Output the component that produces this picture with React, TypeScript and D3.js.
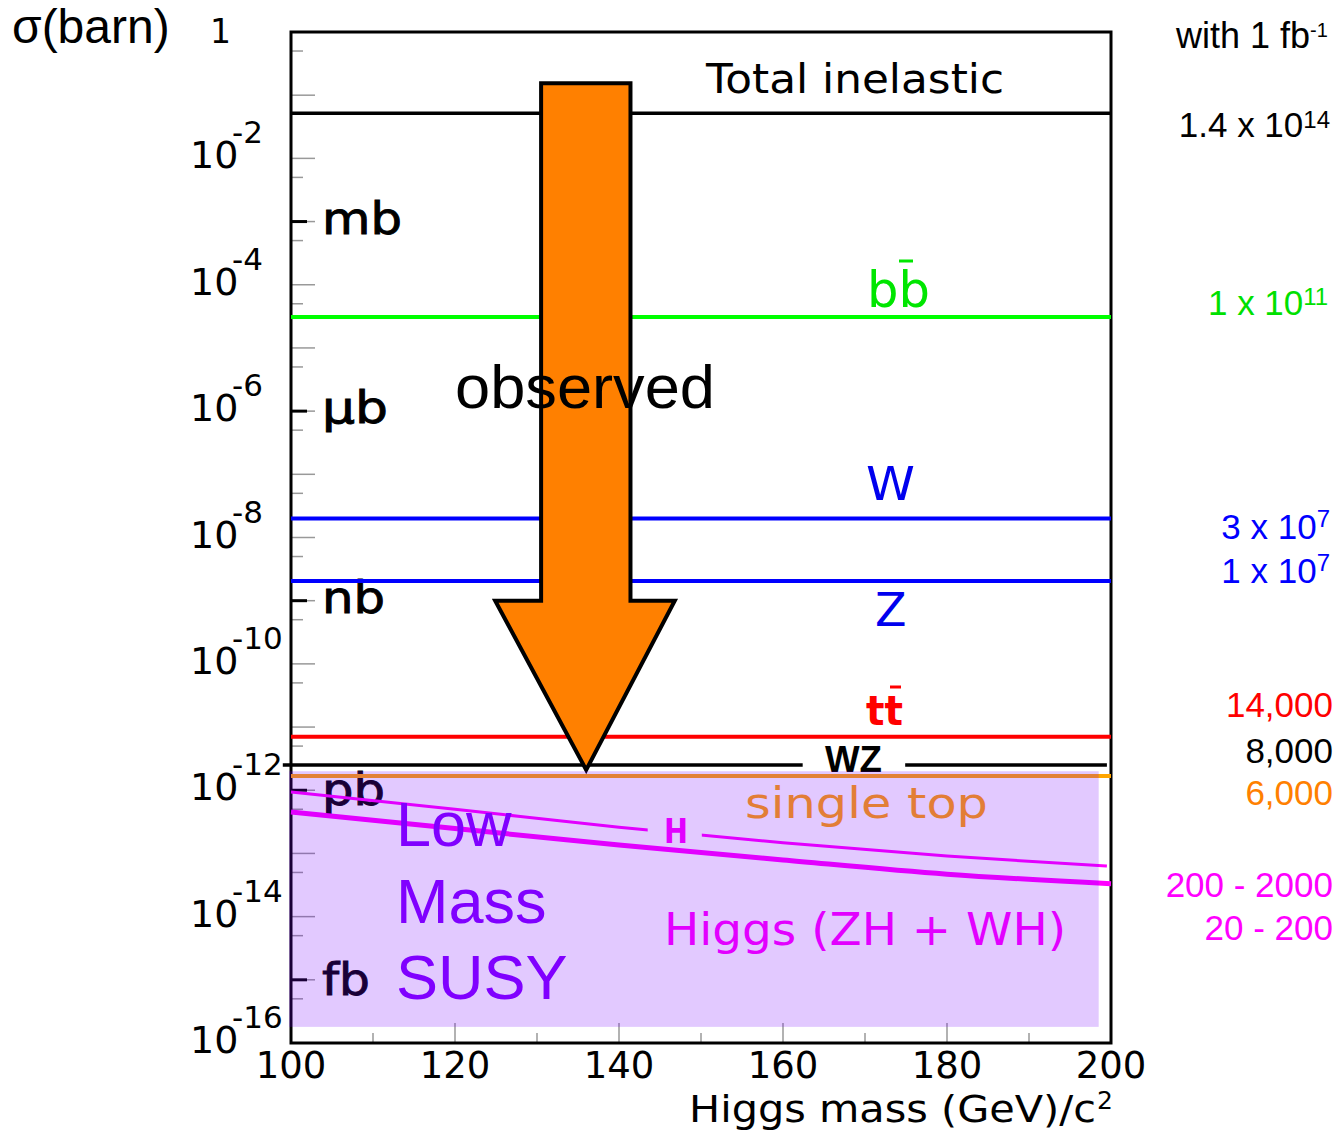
import React from 'react';
import * as d3 from 'd3';

// ---------- data ----------
const massTicks = [100, 120, 140, 160, 180, 200];
const massMinorTicks = [110, 130, 150, 170, 190];
const decadeExponents = [2, 4, 6, 8, 10, 12, 14, 16];
const unitLabels = ['mb', 'μb', 'nb', 'pb', 'fb'];
const unitValues = [1e-3, 1e-6, 1e-9, 1e-12, 1e-15];

const processNames = ['Total inelastic', 'bb', 'W', 'Z', 'tt', 'WZ', 'single top'];
const processSigma = [0.052, 3.1e-5, 2.0e-8, 2.05e-9, 7.0e-12, 2.5e-12, 1.68e-12];
const processColors = ['#000000', '#00ff00', '#0000ff', '#0000ff', '#ff0000', '#000000', '#ffa500'];

const wzExtent = [99, 199.5];
const wzGap = [162.4, 174.9];

const higgsMass = [100, 120, 140, 160, 180, 200];
const higgsZHWH = [4.53e-13, 2.48e-13, 1.36e-13, 7.9e-14, 4.7e-14, 3.3e-14];
const higgsHMass = [100, 120, 140, 160, 180, 199.5];
const higgsH = [9.4e-13, 5.0e-13, 2.6e-13, 1.48e-13, 9.1e-14, 6.3e-14];
const hLabelGap = [143.5, 150.1];

const arrowShaftMass = [130.5, 141.4];
const arrowHeadMass = [124.9, 146.8];
const arrowTipMass = 136.0;
const arrowSigma = [0.155, 1.0e-9, 2.1e-12];

const susyMass = [100, 198.5];
const susySigma = [2.0e-12, 1.8e-16];
const susyWords = ['Low', 'Mass', 'SUSY'];

const eventMain = ['1.4 x 10', '1 x 10', '3 x 10', '1 x 10', '14,000', '8,000', '6,000', '200 - 2000', '20 - 200'];
const eventSup = ['14', '11', '7', '7', '', '', '', '', ''];
const eventColors = ['#000000', '#00e000', '#0000ff', '#0000ff', '#ff0000', '#000000', '#ff8000', '#ff00ff', '#ff00ff'];

// ---------- layout ----------
const W = 1340;
const H = 1132;
const ROOT_FONT = "'DejaVu Sans', sans-serif";
const ARIAL = "'Liberation Sans', Arial, sans-serif";

export default function App() {
  const x = d3.scaleLinear().domain([100, 200]).range([291, 1111]);
  const y = d3.scaleLog().domain([1, 1e-16]).range([32, 1043]);

  const left = x(100);
  const right = x(200);
  const top = y(1);
  const bottom = y(1e-16);

  const hline = d3.line<[number, number]>().x((d) => x(d[0])).y((d) => y(d[1]));
  const curve = d3
    .line<[number, number]>()
    .x((d) => x(d[0]))
    .y((d) => y(d[1]))
    .curve(d3.curveMonotoneX);

  // y ticks
  const decadeTicks: number[] = [];
  const halfTicks: number[] = [];
  for (let k = 1; k < 16; k++) decadeTicks.push(Math.pow(10, -k));
  for (let k = 0; k < 16; k++) halfTicks.push(5 * Math.pow(10, -(k + 1)));

  const unitWidths = [80, 66, 63, 63, 48];
  const unitShift = [12, 12, 12, 15, 15];

  const eventBaselines = [137, 315, 539, 583, 717, 763, 805, 897, 940];
  const eventSupShift = [9, 10, 12, 12, 0, 0, 0, 0, 0];
  const eventRight = 1333;
  const supFont = 24;

  const arrowPts: [number, number][] = [
    [arrowShaftMass[0], arrowSigma[0]],
    [arrowShaftMass[1], arrowSigma[0]],
    [arrowShaftMass[1], arrowSigma[1]],
    [arrowHeadMass[1], arrowSigma[1]],
    [arrowTipMass, arrowSigma[2]],
    [arrowHeadMass[0], arrowSigma[1]],
    [arrowShaftMass[0], arrowSigma[1]],
  ];
  const arrowPath = arrowPts.map((p) => `${x(p[0])},${y(p[1])}`).join(' ');

  return (
    <svg
      width={W}
      height={H}
      viewBox={`0 0 ${W} ${H}`}
      style={{ position: 'absolute', left: 0, top: 0, background: '#fff' }}
    >
      <rect x={0} y={0} width={W} height={H} fill="#fff" />
      <defs>
        <clipPath id="hgap">
          <rect x={0} y={0} width={x(hLabelGap[0])} height={H} />
          <rect x={x(hLabelGap[1])} y={0} width={W - x(hLabelGap[1])} height={H} />
        </clipPath>
      </defs>

      {/* y minor ticks */}
      {decadeTicks.map((v, i) => (
        <line key={'d' + i} x1={left} x2={left + 24} y1={y(v)} y2={y(v)} stroke="#999" strokeWidth={1.5} />
      ))}
      {halfTicks.map((v, i) => (
        <line key={'h' + i} x1={left} x2={left + 12} y1={y(v)} y2={y(v)} stroke="#999" strokeWidth={1.5} />
      ))}
      {/* x ticks */}
      {massMinorTicks.map((v) => (
        <line key={'xm' + v} x1={x(v)} x2={x(v)} y1={bottom} y2={bottom - 10} stroke="#999" strokeWidth={1.5} />
      ))}
      {massTicks.slice(1, -1).map((v) => (
        <line key={'xM' + v} x1={x(v)} x2={x(v)} y1={bottom} y2={bottom - 20} stroke="#999" strokeWidth={1.5} />
      ))}

      {/* frame */}
      <rect x={left} y={top} width={right - left} height={bottom - top} fill="none" stroke="#000" strokeWidth={3} />

      {/* unit ticks and labels */}
      {unitValues.map((v, i) => (
        <g key={'u' + i}>
          <line x1={left} x2={left + 16} y1={y(v)} y2={y(v)} stroke="#000" strokeWidth={3} />
          <text
            x={322}
            y={y(v) + unitShift[i]}
            fontFamily={ROOT_FONT}
            fontSize={44}
            textLength={unitWidths[i]}
            lengthAdjust="spacingAndGlyphs"
            fill="#000"
            stroke="#000"
            strokeWidth={0.9}
          >
            {unitLabels[i]}
          </text>
        </g>
      ))}

      {/* process lines */}
      {processNames.map((name, i) => {
        if (name === 'WZ') {
          const segs: [number, number][][] = [
            [[wzExtent[0], processSigma[i]], [wzGap[0], processSigma[i]]],
            [[wzGap[1], processSigma[i]], [wzExtent[1], processSigma[i]]],
          ];
          return segs.map((s, j) => (
            <path key={name + j} d={hline(s) || ''} stroke={processColors[i]} strokeWidth={3.5} fill="none" />
          ));
        }
        const pts: [number, number][] = [
          [100, processSigma[i]],
          [200, processSigma[i]],
        ];
        return (
          <path
            key={name}
            d={hline(pts) || ''}
            stroke={processColors[i]}
            strokeWidth={i === 0 ? 3.5 : 4}
            fill="none"
          />
        );
      })}

      {/* Higgs curves */}
      <path
        d={curve(higgsHMass.map((m, i) => [m, higgsH[i]] as [number, number])) || ''}
        stroke="#ff00ff"
        strokeWidth={3}
        fill="none"
        clipPath="url(#hgap)"
      />
      <path
        d={curve(higgsMass.map((m, i) => [m, higgsZHWH[i]] as [number, number])) || ''}
        stroke="#ff00ff"
        strokeWidth={5}
        fill="none"
      />

      {/* process labels */}
      <text x={706} y={93} fontFamily={ROOT_FONT} fontSize={41} textLength={298} lengthAdjust="spacingAndGlyphs" fill="#000">
        Total inelastic
      </text>
      <text x={867} y={307} fontFamily={ROOT_FONT} fontSize={50} textLength={63} lengthAdjust="spacingAndGlyphs" fill="#00e600">
        bb
      </text>
      <line x1={899} x2={913} y1={261} y2={261} stroke="#00e600" strokeWidth={3} />
      <text x={866} y={500} fontFamily={ROOT_FONT} fontSize={47} textLength={49} lengthAdjust="spacingAndGlyphs" fill="#0000ee">
        W
      </text>
      <text x={875} y={626} fontFamily={ROOT_FONT} fontSize={46} fill="#0000ee">
        Z
      </text>
      <text x={866} y={725} fontFamily={ROOT_FONT} fontSize={41} fontWeight="bold" textLength={37} lengthAdjust="spacingAndGlyphs" fill="#ff0000">
        tt
      </text>
      <line x1={890} x2={901} y1={687} y2={687} stroke="#ff0000" strokeWidth={3} />
      <text x={825} y={772} fontFamily={ARIAL} fontSize={36} fontWeight="bold" textLength={57} lengthAdjust="spacingAndGlyphs" fill="#000">
        WZ
      </text>
      <text x={745} y={818} fontFamily={ROOT_FONT} fontSize={43} textLength={243} lengthAdjust="spacingAndGlyphs" fill="#ffa000">
        single top
      </text>
      <text x={664} y={843} fontFamily={ROOT_FONT} fontSize={34} fontWeight="bold" textLength={24} lengthAdjust="spacingAndGlyphs" fill="#ff00ff">
        H
      </text>
      <text x={664} y={945} fontFamily={ROOT_FONT} fontSize={44} textLength={402} lengthAdjust="spacingAndGlyphs" fill="#ff00ff">
        Higgs (ZH + WH)
      </text>

      {/* arrow */}
      <polygon points={arrowPath} fill="#ff8000" stroke="#000" strokeWidth={4} strokeLinejoin="miter" />

      {/* y tick labels */}
      <text x={12} y={43} fontFamily={ARIAL} fontSize={48} fill="#000">
        σ(barn)
      </text>
      <text x={210} y={43} fontFamily={ROOT_FONT} fontSize={33} fill="#000">
        1
      </text>
      {decadeExponents.map((k) => {
        const yy = y(Math.pow(10, -k));
        return (
          <g key={'yl' + k}>
            <text x={190} y={yy + 10} fontFamily={ROOT_FONT} fontSize={38} fill="#000">
              10
            </text>
            <text x={232} y={yy - 15} fontFamily={ROOT_FONT} fontSize={31} fill="#000">
              {'-' + k}
            </text>
          </g>
        );
      })}

      {/* x tick labels */}
      {massTicks.map((v) => (
        <text key={'xl' + v} x={x(v)} y={1078} textAnchor="middle" fontFamily={ROOT_FONT} fontSize={37} fill="#000">
          {v}
        </text>
      ))}
      <text x={689} y={1122} fontFamily={ROOT_FONT} fontSize={38} textLength={407} lengthAdjust="spacingAndGlyphs" fill="#000">
        Higgs mass (GeV)/c
      </text>
      <text x={1097} y={1109} fontFamily={ROOT_FONT} fontSize={25} fill="#000">
        2
      </text>

      {/* SUSY overlay */}
      <rect
        x={x(susyMass[0]) - 2}
        y={y(susySigma[0])}
        width={x(susyMass[1]) - x(susyMass[0]) + 2}
        height={y(susySigma[1]) - y(susySigma[0])}
        fill="rgb(120,0,255)"
        fillOpacity={0.21}
      />
      {susyWords.map((w, i) => (
        <text key={w} x={396} y={846 + i * 76.5} fontFamily={ARIAL} fontSize={63} fill="#8000ff">
          {w}
        </text>
      ))}

      {/* observed */}
      <text x={455} y={408} fontFamily={ARIAL} fontSize={62} textLength={260} lengthAdjust="spacingAndGlyphs" fill="#000">
        observed
      </text>

      {/* right labels */}
      <text x={1310} y={48} textAnchor="end" fontFamily={ARIAL} fontSize={36} fill="#000">
        with 1 fb
      </text>
      <text x={1310} y={37} fontFamily={ARIAL} fontSize={20} fill="#000">
        -1
      </text>
      {eventMain.map((t, i) => {
        const sup = eventSup[i];
        const supW = sup.length * 0.556 * supFont;
        const mainEnd = sup ? eventRight - 3 - supW : eventRight;
        return (
          <g key={'ev' + i}>
            <text x={mainEnd} y={eventBaselines[i]} textAnchor="end" fontFamily={ARIAL} fontSize={35} fill={eventColors[i]}>
              {t}
            </text>
            {sup && (
              <text x={mainEnd} y={eventBaselines[i] - eventSupShift[i]} fontFamily={ARIAL} fontSize={supFont} fill={eventColors[i]}>
                {sup}
              </text>
            )}
          </g>
        );
      })}
    </svg>
  );
}
